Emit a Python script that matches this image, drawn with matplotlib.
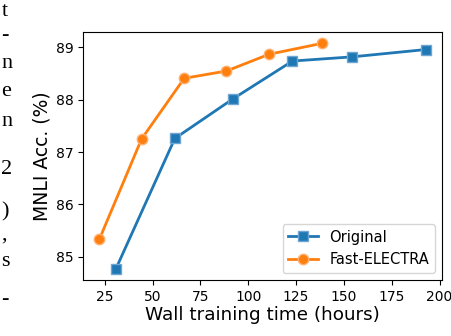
import matplotlib
matplotlib.use("Agg")
import matplotlib.pyplot as plt

orig_hours = [30.8, 61.6, 92.1, 123.1, 154.3, 192.8]
orig_acc = [84.77, 87.26, 88.02, 88.74, 88.82, 88.96]
fast_hours = [22.1, 44.2, 66.5, 88.6, 110.9, 138.8]
fast_acc = [85.33, 87.25, 88.41, 88.55, 88.87, 89.08]
xticks = [25, 50, 75, 100, 125, 150, 175, 200]
yticks = [85, 86, 87, 88, 89]

fig = plt.figure(figsize=(4.52, 3.36), dpi=100)
ax = fig.add_axes([0.1836, 0.1667, 0.7944, 0.7381])

ax.plot(orig_hours, orig_acc, '-s', color='#1f77b4', lw=2, ms=6.5,
        mec='#6fa5d3', mew=1, label='Original')
ax.plot(fast_hours, fast_acc, '-o', color='#ff7f0e', lw=2, ms=7.5,
        mec='#ffb070', mew=1, label='Fast-ELECTRA')

ax.set_xticks(xticks)
ax.set_yticks(yticks)
ax.tick_params(labelsize=10)
ax.set_xlabel('Wall training time (hours)', fontsize=13.2, labelpad=2)
ax.set_ylabel('MNLI Acc. (%)', fontsize=13.5, labelpad=3)
ax.legend(loc='lower right', fontsize=10.5)

# fragments of surrounding paper text at the left edge
frags = [('t', 12), ('-', 35), ('n', 63), ('e', 92), ('n', 122), ('2', 170),
         (')', 212), (',', 235), ('s', 262), ('-', 300)]
for ch, y in frags:
    fig.text(0.003, 1 - y / 336, ch, family='Liberation Serif', fontsize=16,
             va='center', ha='left')

fig.savefig('out.png', dpi=100)
